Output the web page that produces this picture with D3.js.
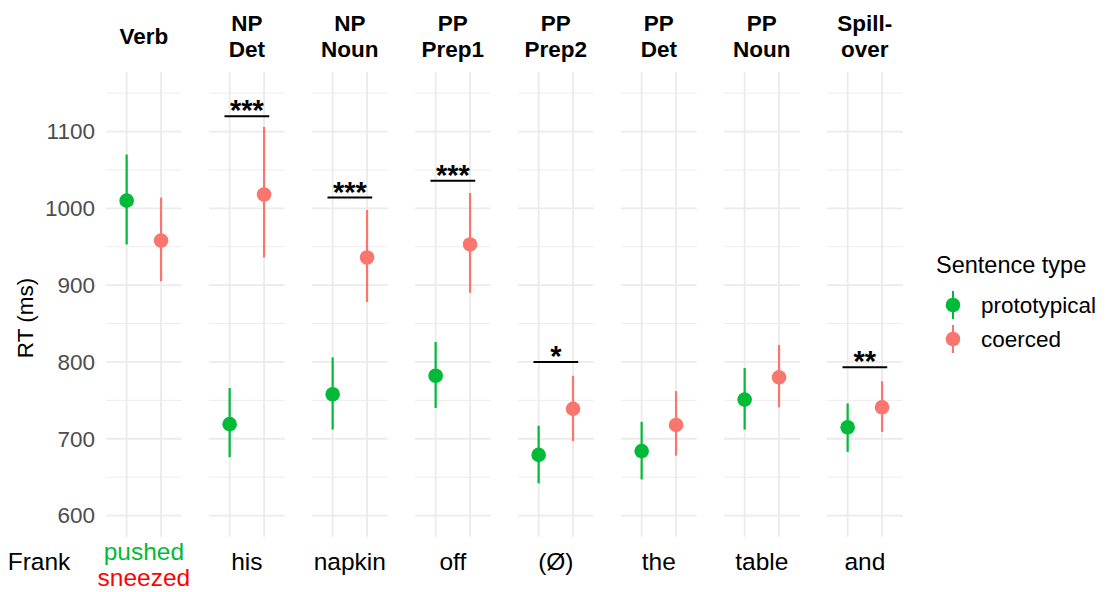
<!DOCTYPE html>
<html>
<head>
<meta charset="utf-8">
<script src="https://cdn.jsdelivr.net/npm/d3@7"></script>
<style>
    body { margin: 0; background: #fff; }
    text { font-family: "Liberation Sans", Arial, sans-serif; }
</style>
</head>
<body>
<div id="chart"></div>
<script>
// regions of the sentence (one panel each)
const regions = ["Verb", "NP Det", "NP Noun", "PP Prep1", "PP Prep2", "PP Det", "PP Noun", "Spill-over"];
const headers = [["Verb"], ["NP", "Det"], ["NP", "Noun"], ["PP", "Prep1"], ["PP", "Prep2"], ["PP", "Det"], ["PP", "Noun"], ["Spill-", "over"]];
const words = ["pushed", "his", "napkin", "off", "(Ø)", "the", "table", "and"];

const types = ["prototypical", "coerced"];
const colors = ["#00BA38", "#F8766D"];

// mean RT and 95% CI
const protoMean = [1010, 719, 758, 782, 679, 684, 751, 715];
const protoLow = [953, 676, 712, 740, 642, 647, 712, 683];
const protoHigh = [1070, 766, 806, 826, 717, 722, 792, 746];
const coercedMean = [958, 1018, 936, 953, 739, 718, 780, 741];
const coercedLow = [905, 936, 878, 890, 697, 678, 741, 709];
const coercedHigh = [1014, 1106, 998, 1020, 782, 762, 822, 775];

// significance marks
const sigLabels = ["", "***", "***", "***", "*", "", "", "**"];
const sigY = [null, 1120, 1014, 1036, 800, null, null, 793];

const yTicks = [600, 700, 800, 900, 1000, 1100];
const yMinor = [650, 750, 850, 950, 1050, 1150];

const width = 1106;
const height = 592;

const svg = d3.select("#chart")
    .append("svg")
    .attr("width", width)
    .attr("height", height);

const fx = d3.scaleBand()
    .domain(regions)
    .range([106, 902.7])
    .paddingInner(0.265)
    .paddingOuter(0);

const x = d3.scalePoint()
    .domain(types)
    .range([0, fx.bandwidth()])
    .padding(0.6);

const y = d3.scaleLinear()
    .domain([572.5, 1177.5])
    .range([536.7, 72]);

const rows = regions.map((r, i) => ({
    region: r,
    values: [
        {type: "prototypical", mean: protoMean[i], lo: protoLow[i], hi: protoHigh[i]},
        {type: "coerced", mean: coercedMean[i], lo: coercedLow[i], hi: coercedHigh[i]}
    ],
    sig: sigLabels[i],
    sigY: sigY[i]
}));

const panel = svg.selectAll(".panel")
    .data(rows)
    .enter()
    .append("g")
    .attr("class", "panel")
    .attr("transform", d => `translate(${fx(d.region)},0)`);

// grid
panel.selectAll(".minor")
    .data(yMinor)
    .enter()
    .append("line")
    .attr("x1", 0).attr("x2", fx.bandwidth())
    .attr("y1", d => y(d)).attr("y2", d => y(d))
    .attr("stroke", "#ededed")
    .attr("stroke-width", 1);

panel.selectAll(".major")
    .data(yTicks)
    .enter()
    .append("line")
    .attr("x1", 0).attr("x2", fx.bandwidth())
    .attr("y1", d => y(d)).attr("y2", d => y(d))
    .attr("stroke", "#ebebeb")
    .attr("stroke-width", 1.8);

panel.selectAll(".vgrid")
    .data(types)
    .enter()
    .append("line")
    .attr("x1", d => x(d)).attr("x2", d => x(d))
    .attr("y1", y.range()[0]).attr("y2", y.range()[1])
    .attr("stroke", "#ebebeb")
    .attr("stroke-width", 1.8);

// error bars and points
panel.selectAll(".ci")
    .data(d => d.values)
    .enter()
    .append("line")
    .attr("x1", d => x(d.type)).attr("x2", d => x(d.type))
    .attr("y1", d => y(d.lo)).attr("y2", d => y(d.hi))
    .attr("stroke", (d, i) => colors[i])
    .attr("stroke-width", 2.2);

panel.selectAll(".pt")
    .data(d => d.values)
    .enter()
    .append("circle")
    .attr("cx", d => x(d.type))
    .attr("cy", d => y(d.mean))
    .attr("r", 7.3)
    .attr("fill", (d, i) => colors[i]);

// significance bars
const sig = panel.filter(d => d.sig !== "");
const step = x.step();
sig.append("line")
    .attr("x1", x(types[0]) - 0.15 * step)
    .attr("x2", x(types[1]) + 0.15 * step)
    .attr("y1", d => y(d.sigY))
    .attr("y2", d => y(d.sigY))
    .attr("stroke", "#000")
    .attr("stroke-width", 2);

sig.append("text")
    .attr("x", fx.bandwidth() / 2)
    .attr("y", d => y(d.sigY) + 4)
    .attr("text-anchor", "middle")
    .style("font-size", "29px")
    .style("font-weight", "bold")
    .text(d => d.sig);

// strip headers
panel.each(function(d, i) {
    const lines = headers[i];
    const t = d3.select(this).append("text")
        .attr("text-anchor", "middle")
        .style("font-size", "22.5px")
        .style("font-weight", "bold");
    lines.forEach((l, j) => {
        const base = lines.length === 1 ? 44 : 31 + j * 26;
        t.append("tspan")
            .attr("x", fx.bandwidth() / 2)
            .attr("y", base)
            .text(l);
    });
});

// y axis labels
svg.selectAll(".ytick")
    .data(yTicks)
    .enter()
    .append("text")
    .attr("x", 95)
    .attr("y", d => y(d))
    .attr("dy", "0.35em")
    .attr("text-anchor", "end")
    .attr("fill", "#4d4d4d")
    .style("font-size", "22.5px")
    .text(d => d);

svg.append("text")
    .attr("transform", "translate(33,318) rotate(-90)")
    .attr("text-anchor", "middle")
    .style("font-size", "22.5px")
    .text("RT (ms)");

// sentence words under the panels
svg.append("text")
    .attr("x", 39)
    .attr("y", 570)
    .attr("text-anchor", "middle")
    .style("font-size", "24.5px")
    .text("Frank");

svg.selectAll(".word")
    .data(regions)
    .enter()
    .append("text")
    .attr("x", d => fx(d) + fx.bandwidth() / 2)
    .attr("y", (d, i) => i === 0 ? 560 : 570)
    .attr("text-anchor", "middle")
    .attr("fill", (d, i) => i === 0 ? "#00BA38" : "#000")
    .style("font-size", "24.5px")
    .text((d, i) => words[i]);

svg.append("text")
    .attr("x", fx(regions[0]) + fx.bandwidth() / 2)
    .attr("y", 586)
    .attr("text-anchor", "middle")
    .attr("fill", "#ff0000")
    .style("font-size", "24.5px")
    .text("sneezed");

// legend
const legend = svg.append("g").attr("transform", "translate(936,0)");
legend.append("text")
    .attr("x", 0)
    .attr("y", 273)
    .style("font-size", "23.5px")
    .text("Sentence type");

const item = legend.selectAll(".item")
    .data(types)
    .enter()
    .append("g")
    .attr("transform", (d, i) => `translate(0,${305 + i * 34})`);

item.append("line")
    .attr("x1", 17).attr("x2", 17)
    .attr("y1", -14).attr("y2", 14)
    .attr("stroke", (d, i) => colors[i])
    .attr("stroke-width", 2);

item.append("circle")
    .attr("cx", 17)
    .attr("cy", 0)
    .attr("r", 7.3)
    .attr("fill", (d, i) => colors[i]);

item.append("text")
    .attr("x", 45)
    .attr("y", 0)
    .attr("dy", "0.35em")
    .style("font-size", "22.5px")
    .text(d => d);
</script>
</body>
</html>
